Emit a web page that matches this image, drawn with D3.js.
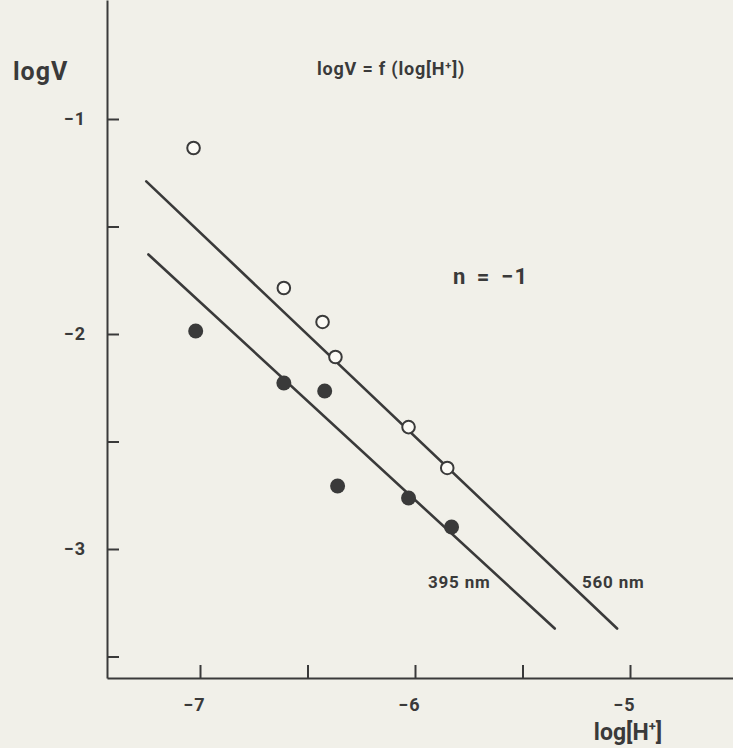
<!DOCTYPE html>
<html>
<head>
<meta charset="utf-8">
<script src="https://cdn.jsdelivr.net/npm/d3@7"></script>
<style>
body { margin: 0; background: #f1f0e9; }
svg { display: block; }
text { font-family: Roboto, "DejaVu Sans", sans-serif; font-weight: 700; fill: #3a3a3a; }
</style>
</head>
<body>
<div id="chart"></div>
<script>
const w = 733;
const h = 748;

// open circles : 560 nm
const openX = [-7.03, -6.61, -6.43, -6.37, -6.03, -5.85];
const openY = [-1.135, -1.786, -1.944, -2.107, -2.433, -2.623];
// filled circles : 395 nm
const filledX = [-7.02, -6.61, -6.42, -6.36, -6.03, -5.83];
const filledY = [-1.986, -2.228, -2.265, -2.707, -2.763, -2.898];

// fitted lines (start, end)
const line560X = [-7.25, -5.06];
const line560Y = [-1.29, -3.37];
const line395X = [-7.24, -5.35];
const line395Y = [-1.63, -3.37];

const xTicks = [-7, -6.5, -6, -5.5, -5];
const xTickLabels = ["\u22127", "", "\u22126", "", "\u22125"];
const yTicks = [-1, -1.5, -2, -2.5, -3, -3.5];
const yTickLabels = ["\u22121", "", "\u22122", "", "\u22123", ""];

const ink = "#3a3a3a";

const svg = d3.select("#chart")
  .append("svg")
  .attr("width", w)
  .attr("height", h);

// scales: set by the tick spacing then stretched to the drawn axis lines
const x = d3.scaleLinear().domain([-7, -5]).range([200, 630]);
const y = d3.scaleLinear().domain([-1, -3]).range([119, 549]);
const axisLeftX = 107;
const axisBottomY = 678;
x.domain([x.invert(axisLeftX), x.invert(w)]).range([axisLeftX, w]);
y.domain([y.invert(0), y.invert(axisBottomY)]).range([0, axisBottomY]);

const xAxis = d3.axisBottom(x)
  .tickValues(xTicks)
  .tickFormat((d, i) => xTickLabels[i])
  .tickSizeInner(-13)
  .tickSizeOuter(0)
  .tickPadding(20);

const yAxis = d3.axisLeft(y)
  .tickValues(yTicks)
  .tickFormat((d, i) => yTickLabels[i])
  .tickSizeInner(-12)
  .tickSizeOuter(0)
  .tickPadding(21);

const gx = svg.append("g")
  .attr("transform", "translate(0," + axisBottomY + ")")
  .call(xAxis);

const gy = svg.append("g")
  .attr("transform", "translate(" + axisLeftX + ",0)")
  .call(yAxis);

[gx, gy].forEach(g => {
  g.selectAll("path, line").attr("stroke", ink).attr("stroke-width", 2);
  g.selectAll("text")
    .attr("fill", ink)
    .style("font-family", "Roboto, 'DejaVu Sans', sans-serif")
    .style("font-weight", 700)
    .style("font-size", "18px")
    .style("letter-spacing", "1px");
});
gx.selectAll("text").attr("dx", -6);

// fitted lines
const lines = [
  { xs: line560X, ys: line560Y },
  { xs: line395X, ys: line395Y }
];
svg.selectAll("line.fit")
  .data(lines)
  .enter()
  .append("line")
  .attr("class", "fit")
  .attr("x1", d => x(d.xs[0]))
  .attr("y1", d => y(d.ys[0]))
  .attr("x2", d => x(d.xs[1]))
  .attr("y2", d => y(d.ys[1]))
  .attr("stroke", ink)
  .attr("stroke-width", 2.6)
  .attr("stroke-linecap", "round");

// points
svg.selectAll("circle.filled")
  .data(filledX.map((v, i) => [v, filledY[i]]))
  .enter()
  .append("circle")
  .attr("class", "filled")
  .attr("cx", d => x(d[0]))
  .attr("cy", d => y(d[1]))
  .attr("r", 7.5)
  .attr("fill", ink);

svg.selectAll("circle.open")
  .data(openX.map((v, i) => [v, openY[i]]))
  .enter()
  .append("circle")
  .attr("class", "open")
  .attr("cx", d => x(d[0]))
  .attr("cy", d => y(d[1]))
  .attr("r", 6.3)
  .attr("fill", "#fbfaf5")
  .attr("stroke", ink)
  .attr("stroke-width", 2);

// labels
svg.append("text")
  .attr("x", 13).attr("y", 80)
  .style("font-size", "25px")
  .style("letter-spacing", "1px")
  .text("logV");

const title = svg.append("text")
  .attr("x", 317).attr("y", 75)
  .style("font-size", "18px")
  .style("letter-spacing", "0.8px");
title.append("tspan").text("logV = f (log[H");
title.append("tspan").attr("dy", -6).style("font-size", "11px").text("+");
title.append("tspan").attr("dy", 6).text("])");

svg.append("text")
  .attr("x", 453).attr("y", 284)
  .style("font-size", "22px")
  .style("letter-spacing", "1.5px")
  .style("word-spacing", "3px")
  .text("n = \u22121");

svg.append("text")
  .attr("x", 428).attr("y", 588)
  .style("font-size", "17px")
  .style("letter-spacing", "0.8px")
  .text("395 nm");

svg.append("text")
  .attr("x", 582).attr("y", 588)
  .style("font-size", "17px")
  .style("letter-spacing", "0.8px")
  .text("560 nm");

const xl = svg.append("text")
  .attr("x", x(-5) - 2).attr("y", 740)
  .attr("text-anchor", "middle")
  .style("font-size", "23px");
xl.append("tspan").text("log[H");
xl.append("tspan").attr("dy", -9).style("font-size", "13px").text("+");
xl.append("tspan").attr("dy", 9).text("]");
</script>
</body>
</html>
